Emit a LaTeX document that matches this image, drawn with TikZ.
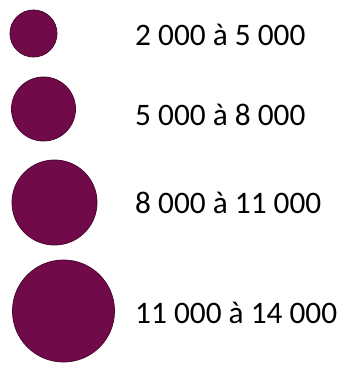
\documentclass[tikz,border=0pt]{standalone}
\usepackage{fontspec}
\setmainfont{Carlito}
\definecolor{dotfill}{HTML}{700A48}
\definecolor{dotline}{HTML}{4A0530}
\begin{document}
\begin{tikzpicture}[x=1pt,y=-1pt,
  dot/.style={circle,fill=dotfill,draw=dotline,line width=0.8pt,inner sep=0pt},
  lab/.style={anchor=base west,inner sep=0pt,font=\fontsize{31.3}{36}\selectfont,text=black}]
\useasboundingbox (0,0) rectangle (342,365);
\node[dot,minimum size=47pt] (c1) at (33.5,33.5) {};
\node[dot,minimum size=64pt] (c2) at (43.5,109) {};
\node[dot,minimum size=85pt] (c3) at (54.5,202.5) {};
\node[dot,minimum size=102pt] (c4) at (63.5,311) {};
\node[lab] (t1) at (135,45) {2 000 à 5 000};
\node[lab] (t2) at (135,125) {5 000 à 8 000};
\node[lab] (t3) at (135,213) {8 000 à 11 000};
\node[lab] (t4) at (135,323) {11 000 à 14 000};
\end{tikzpicture}
\end{document}
